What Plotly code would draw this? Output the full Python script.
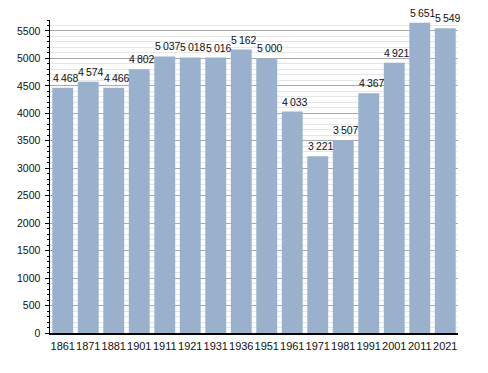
import plotly.graph_objects as go

years = ["1861", "1871", "1881", "1901", "1911", "1921", "1931", "1936",
         "1951", "1961", "1971", "1981", "1991", "2001", "2011", "2021"]
population = [4468, 4574, 4466, 4802, 5037, 5018, 5016, 5162,
              5000, 4033, 3221, 3507, 4367, 4921, 5651, 5549]
y_ticks = list(range(0, 5501, 500))

def fmt(v):
    return f"{v:,}".replace(",", "\u2009")

fig = go.Figure()
fig.add_trace(go.Bar(
    x=years, y=population,
    marker=dict(color="#99b1cc", line=dict(width=0)),
    width=0.82,
    hoverinfo="skip",
))

for i, v in enumerate(population):
    fig.add_annotation(
        x=i, y=v, xref="x", yref="y", text=fmt(v), showarrow=False,
        yanchor="bottom", xanchor="center", xshift=3, yshift=2,
        font=dict(family="Liberation Sans, Arial", size=10.5, color="#111"),
    )

fig.update_layout(
    width=488, height=373,
    margin=dict(l=50, r=30, t=20, b=40, autoexpand=False),
    paper_bgcolor="white", plot_bgcolor="white",
    showlegend=False, hovermode=False,
    font=dict(family="Liberation Sans, Arial", size=10.5, color="#111"),
)
fig.update_xaxes(
    type="category", range=[-0.5, 15.5], automargin=False,
    showline=True, linecolor="black", linewidth=1.5,
    ticks="", showgrid=False, tickangle=0,
    tickfont=dict(family="Liberation Sans Narrow, Liberation Sans, Arial", size=11),
    ticklabelstandoff=2,
)
fig.update_yaxes(
    range=[0, 5700], tickvals=y_ticks, automargin=False,
    showline=True, linecolor="black", linewidth=1.5,
    ticks="outside", ticklen=4, tickcolor="black", tickwidth=1,
    showgrid=True, gridcolor="#a8a8a8", gridwidth=1,
    minor=dict(dtick=100, tick0=0, showgrid=True, gridcolor="#e6e6e6",
               ticks="outside", ticklen=2, tickcolor="black", tickwidth=1),
    zeroline=False, tickfont=dict(size=10.5),
    ticklabelstandoff=2,
)

fig.write_html("out.html", config={"displayModeBar": False, "staticPlot": True})

with open("out.html", "r", encoding="utf-8") as f:
    html = f.read()
html = html.replace("<body>", '<body style="margin:0;padding:0;overflow:hidden">', 1)
with open("out.html", "w", encoding="utf-8") as f:
    f.write(html)
